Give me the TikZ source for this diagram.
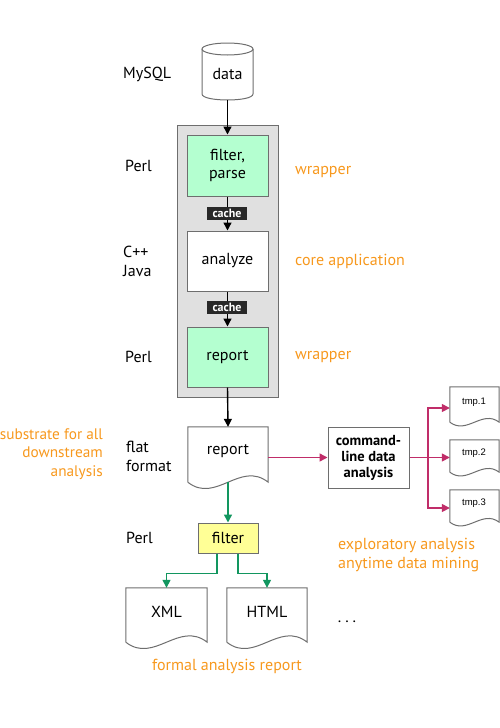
\documentclass[tikz,border=0pt]{standalone}
\usepackage{fontspec}
\setmainfont{PT Sans}
\newfontfamily\smallsans{Liberation Sans}
\usetikzlibrary{arrows.meta,calc}
\definecolor{orng}{RGB}{247,152,29}
\definecolor{mag}{RGB}{192,45,105}
\definecolor{grn}{RGB}{18,150,95}
\definecolor{mint}{RGB}{180,255,208}
\definecolor{yel}{RGB}{255,255,150}
\definecolor{boxgray}{RGB}{224,224,224}
\definecolor{edge}{RGB}{110,110,110}
\definecolor{cachebg}{RGB}{40,40,40}
\tikzset{
  lbl/.style={font=\fontsize{16}{18.5}\selectfont, anchor=west, align=left, inner sep=0pt},
  olbl/.style={lbl, text=orng},
  proc/.style={draw=edge, line width=1pt, minimum width=81pt, minimum height=61pt, inner sep=0pt, font=\fontsize{16}{18.5}\selectfont, align=center},
  docbox/.style={draw=none, inner sep=0pt, font=\fontsize{16}{18.5}\selectfont},
  docline/.style={draw=edge, line width=1pt, fill=white},
  cachelbl/.style={fill=cachebg, text=white, font=\bfseries\fontsize{12}{12}\selectfont, inner sep=1pt, minimum width=40pt, minimum height=13pt},
  blk/.style={line width=1.4pt, -{Triangle[length=8pt,width=8pt]}},
  magarr/.style={draw=mag, line width=1.5pt, -{Triangle[length=8pt,width=8pt]}},
  grnarr/.style={draw=grn, line width=1.5pt, -{Triangle[length=8pt,width=8pt]}},
}
\newcommand\docoutline[3]{%
  \draw[docline] (#1.south west) -- (#1.north west) -- (#1.north east) -- (#1.south east)
    .. controls +(-0.35*#2,-#3) and +(0.35*#2,#3) .. (#1.south west);}
\begin{document}
\begin{tikzpicture}[x=1pt,y=-1pt]
\useasboundingbox (0,0) rectangle (500,728);

% data cylinder
\node[docbox, minimum width=51pt, minimum height=57pt] (data) at (227.5,71.5) {};
\draw[docline] (202,49) -- (202,94) .. controls (202,102) and (253,102) .. (253,94) -- (253,49);
\draw[docline] (227.5,49) ellipse [x radius=25.5, y radius=6];
\node[docbox] (datatxt) at (227.5,74) {data};

% gray container
\node[draw=edge, fill=boxgray, line width=1pt, minimum width=101pt, minimum height=272pt, inner sep=0pt] (cont) at (227.5,261) {};

\node[proc, fill=mint] (fp) at (227.5,165.5) {filter,\\parse};
\node[proc, fill=white, minimum height=60pt] (an) at (227.5,261) {analyze};
\node[proc, fill=mint, minimum height=60pt] (rp) at (227.5,357) {report};

\draw[blk] (data.south) -- (fp.north);
\draw[blk] (fp.south) -- (an.north);
\draw[blk] (an.south) -- (rp.north);
\node[cachelbl] (c1) at (227,213) {cache};
\node[cachelbl] (c2) at (227,307) {cache};

% report document
\node[docbox, minimum width=80pt, minimum height=55pt] (rdoc) at (228,454.5) {};
\docoutline{rdoc}{80}{22}
\node[docbox] (rdoctxt) at (228,451) {report};
\draw[blk] (rp.south) -- (rdoc.north);

% command-line box
\node[proc, fill=white, font=\bfseries\fontsize{14.5}{16}\selectfont] (cmd) at (368.5,457.5) {command-\\line data\\analysis};
\draw[magarr] (rdoc.east |- cmd.west) -- (cmd.west);

% tmp docs
\node[docbox, minimum width=49pt, minimum height=35pt] (t1) at (474.5,404.5) {};
\node[docbox, minimum width=49pt, minimum height=32pt] (t2) at (474.5,456) {};
\node[docbox, minimum width=49pt, minimum height=32pt] (t3) at (474.5,506) {};
\docoutline{t1}{49}{13}
\docoutline{t2}{49}{13}
\docoutline{t3}{49}{13}
\node[docbox, font=\smallsans\fontsize{9.5}{10}\selectfont] (t1txt) at (474,402) {tmp.1};
\node[docbox, font=\smallsans\fontsize{9.5}{10}\selectfont] (t2txt) at (474,453) {tmp.2};
\node[docbox, font=\smallsans\fontsize{9.5}{10}\selectfont] (t3txt) at (474,503) {tmp.3};
\coordinate (br) at (428,457.5);
\draw[draw=mag, line width=1.5pt] (cmd.east) -- (br);
\draw[magarr] (br) |- (t1.west |- 0,408);
\draw[magarr] (br) -- (t2.west |- br);
\draw[magarr] (br) |- (t3.west |- 0,508);

% filter
\node[proc, fill=yel, minimum width=60pt, minimum height=30pt] (flt) at (228,538) {filter};
\draw[grnarr] (rdoc.south) -- (flt.north);

% XML / HTML docs
\node[docbox, minimum width=81pt, minimum height=54pt] (xml) at (166.5,615) {};
\node[docbox, minimum width=80pt, minimum height=54pt] (html) at (267,615) {};
\docoutline{xml}{81}{22}
\docoutline{html}{80}{22}
\node[docbox] (xmltxt) at (166.5,612) {XML};
\node[docbox] (htmltxt) at (267,612) {HTML};
\draw[grnarr] ([xshift=-11pt]flt.south) -- ++(0,20) -| (xml.north);
\draw[grnarr] ([xshift=10pt]flt.south) -- ++(0,20) -| (html.north);
\node[docbox] (dots) at (347,622) {.\hspace{4pt}.\hspace{4pt}.};

% left labels
\node[lbl] (l1) at (123,74) {MySQL};
\node[lbl] (l2) at (125,166) {Perl};
\node[lbl] (l3) at (123,261.5) {C++\\Java};
\node[lbl] (l4) at (125,357) {Perl};
\node[lbl] (l5) at (126,456.5) {flat\\format};
\node[lbl] (l6) at (126,538) {Perl};

% orange labels
\node[olbl] (o1) at (295,172) {wrapper};
\node[olbl] (o2) at (295,261) {core application};
\node[olbl] (o3) at (295,357) {wrapper};
\node[olbl, anchor=east, align=right, font=\fontsize{15.3}{18.5}\selectfont] (o4) at (103,454) {substrate for all\\downstream\\analysis};
\node[olbl] (o5) at (338,555) {exploratory analysis\\anytime data mining};
\node[olbl, anchor=center] (o6) at (227,666) {formal analysis report};
\end{tikzpicture}
\end{document}
